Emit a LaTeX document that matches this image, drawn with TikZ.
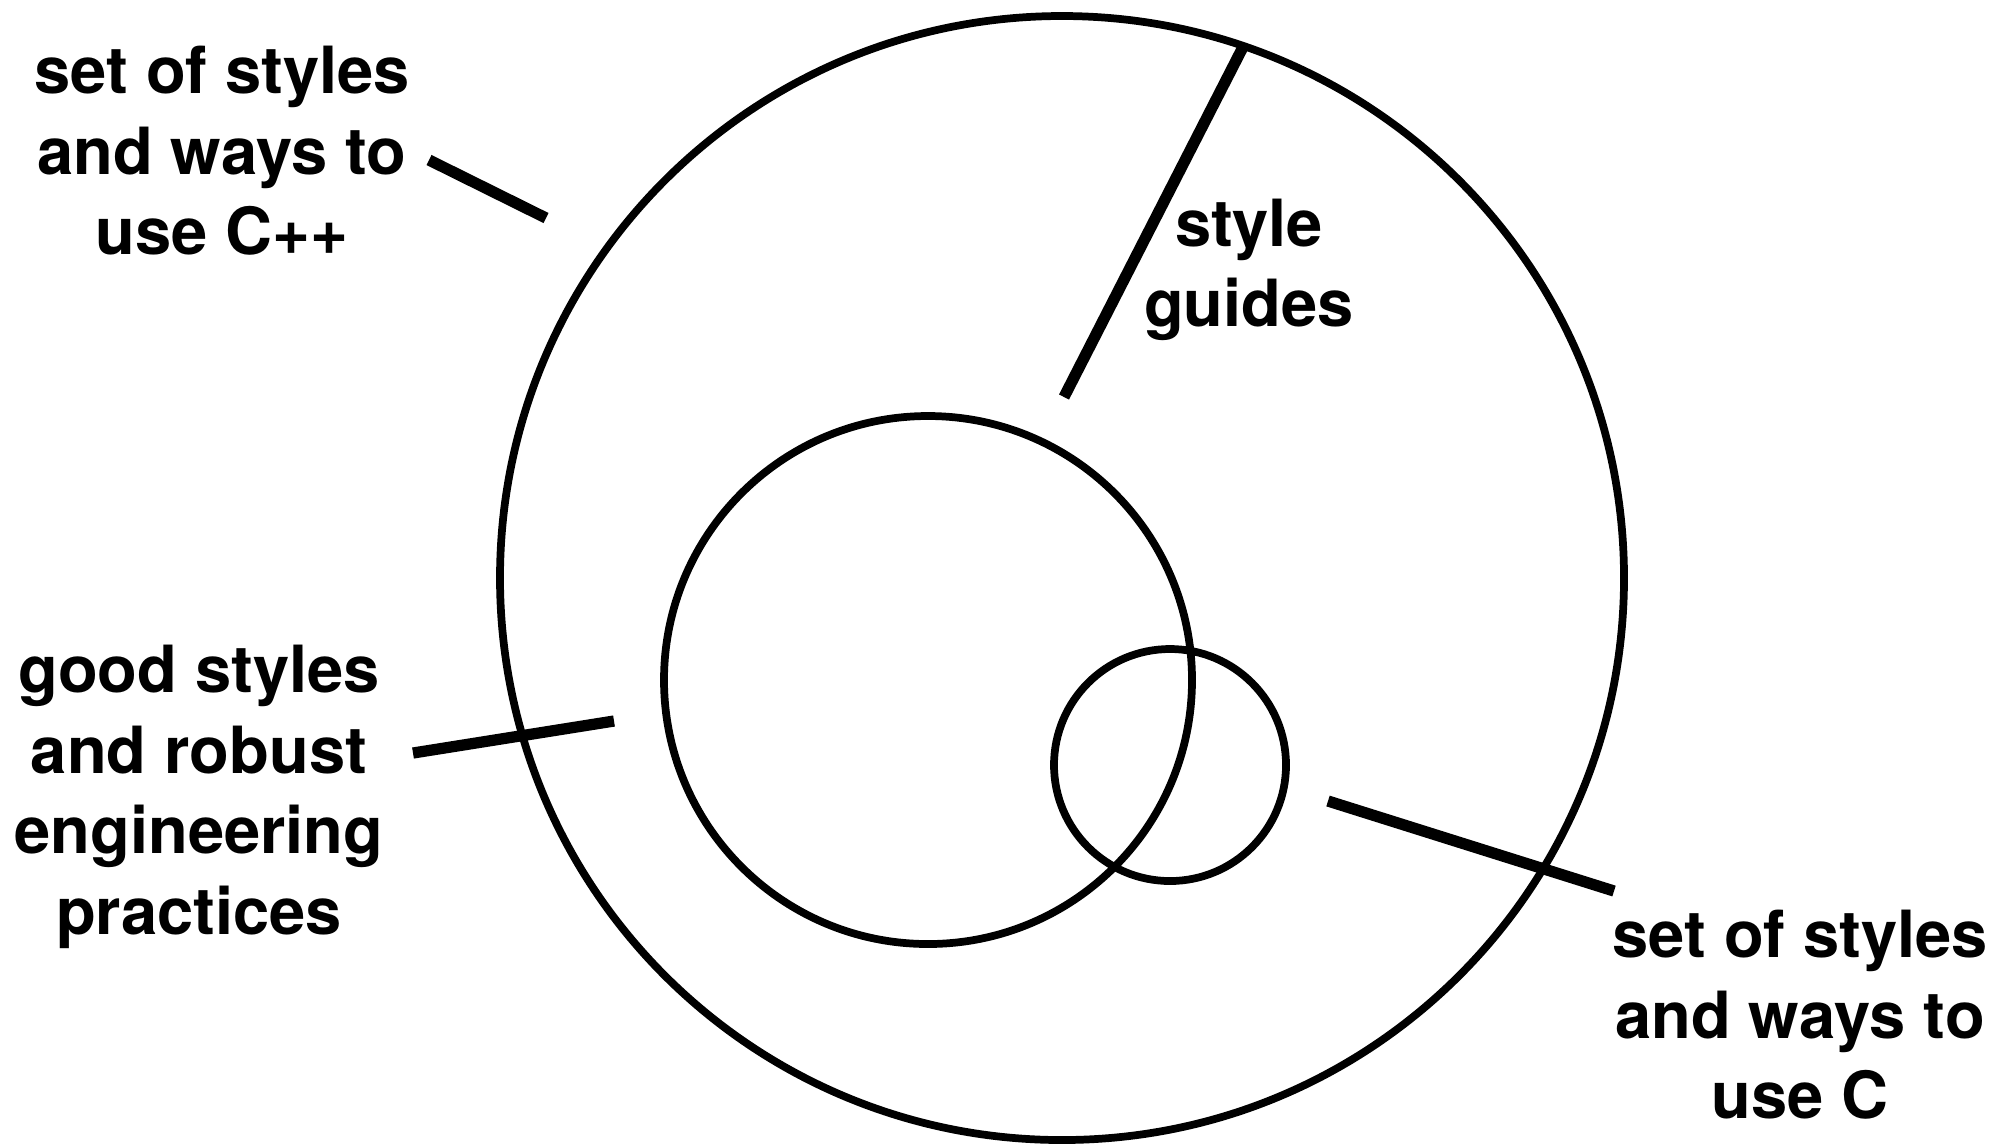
\documentclass[tikz,border=0pt]{standalone}
\usepackage{fontspec}
\setmainfont{TeX Gyre Heros}
\tikzset{
  ring/.style={draw=black, line width=2.2pt},
  pointer/.style={draw=black, line width=3.2pt},
  note/.style={align=center, inner sep=0pt, font=\fontsize{18.5}{22.9}\selectfont\bfseries}
}

\begin{document}
\begin{tikzpicture}[x=0.01cm, y=-0.01cm]
  \useasboundingbox (0,0) rectangle (2001,1147);

  % circles
  \coordinate (outer) at (1062,578);
  \coordinate (inner) at (928,680);
  \coordinate (small) at (1170,765);
  \draw[ring] (outer) circle[radius=562];
  \draw[ring] (inner) circle[radius=264];
  \draw[ring] (small) circle[radius=116];

  % labels
  \node[note] (cpp) at (222,151) {set of styles\\ and ways to\\ use C++};
  \node[note] (guides) at (1249,270) {style\\ guides};
  \node[note] (good) at (199,797) {good styles\\ and robust\\ engineering\\ practices};
  \node[note] (clang) at (1800,1015) {set of styles\\ and ways to\\ use C};

  % pointers
  \coordinate (cpp-a) at (429,160);
  \coordinate (cpp-b) at (546,218);
  \coordinate (guides-a) at (1244,45);
  \coordinate (guides-b) at (1064,397);
  \coordinate (good-a) at (413,753);
  \coordinate (good-b) at (614,721);
  \coordinate (clang-a) at (1328,801);
  \coordinate (clang-b) at (1614,891);
  \draw[pointer] (cpp-a) -- (cpp-b);
  \draw[pointer] (guides-a) -- (guides-b);
  \draw[pointer] (good-a) -- (good-b);
  \draw[pointer] (clang-a) -- (clang-b);
\end{tikzpicture}
\end{document}
